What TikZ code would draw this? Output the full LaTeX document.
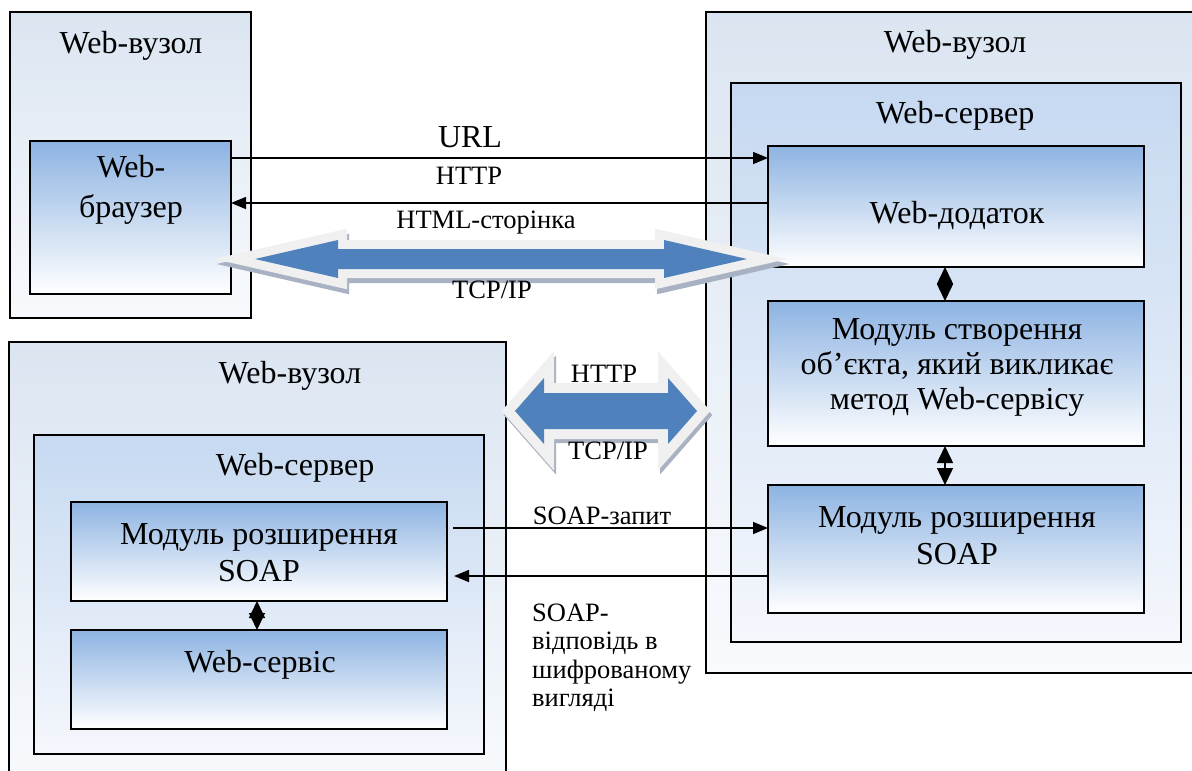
\documentclass[tikz,border=0pt]{standalone}
\usepackage{fontspec}
\setmainfont{Liberation Serif}
\usetikzlibrary{arrows.meta}

\definecolor{nodetop}{HTML}{DBE5F1}
\definecolor{nodebot}{HTML}{F8FAFD}
\definecolor{srvtop}{HTML}{C6D9F1}
\definecolor{srvbot}{HTML}{F4F7FC}
\definecolor{modtop}{HTML}{8DB3E2}
\definecolor{arrowblue}{HTML}{4F81BD}
\definecolor{arrowrim}{HTML}{F0F0F0}
\definecolor{arrowshadow}{HTML}{A9B2C2}

% block double arrow: left tip, right tip, axis y, shaft half height, head half height, head length
\newcommand\blockarrowpath[6]{%
  ({#1},{#3}) -- ({#1+#6},{#3-#5}) -- ({#1+#6},{#3-#4}) -- ({#2-#6},{#3-#4}) --
  ({#2-#6},{#3-#5}) -- ({#2},{#3}) -- ({#2-#6},{#3+#5}) -- ({#2-#6},{#3+#4}) --
  ({#1+#6},{#3+#4}) -- ({#1+#6},{#3+#5}) -- cycle}

\begin{document}
\begin{tikzpicture}[x=1pt,y=-1pt,
  box/.style={draw=black, line width=1.8pt, rectangle, inner sep=0pt, outer sep=0pt},
  hostbox/.style={box, top color=nodetop, bottom color=nodebot},
  serverbox/.style={box, top color=srvtop, bottom color=srvbot},
  modbox/.style={box, top color=modtop, bottom color=white},
  big/.style={font=\fontsize{32}{37}\selectfont, align=center, inner sep=0pt},
  small/.style={font=\fontsize{26.5}{28.5}\selectfont, inner sep=0pt},
  link/.style={line width=1.5pt, -{Triangle[length=15pt,width=12pt]}},
  bothway/.style={line width=1.5pt, {Triangle[length=17pt,width=16pt]}-{Triangle[length=17pt,width=16pt]}},
  rimshadow/.style={fill=arrowshadow, draw=arrowshadow, line width=#1},
  rim/.style={fill=arrowrim, draw=arrowrim, line width=#1},
]
\useasboundingbox (0,0) rectangle (1192,771);
\fill[white] (0,0) rectangle (1192,771);
\clip (0,0) rectangle (1192,771);

% ---- client host ----
\node[hostbox, minimum width=241, minimum height=306] (hostA) at (130.5,165) {};
\node[modbox, minimum width=201, minimum height=153] (browser) at (130.5,217.5) {};
\node[big] (hostAtitle) at (131,46) {Web-вузол};
\node[big, font=\fontsize{32}{40}\selectfont] (browsertext) at (131,190) {Web-\\браузер};

% ---- application host ----
\node[hostbox, minimum width=496, minimum height=661] (hostB) at (954,342.5) {};
\node[serverbox, minimum width=450, minimum height=559] (serverB) at (956,362.5) {};
\node[modbox, minimum width=376, minimum height=121] (app) at (956,206.5) {};
\node[modbox, minimum width=376, minimum height=145] (create) at (956,373.5) {};
\node[modbox, minimum width=376, minimum height=128] (soapB) at (956,549) {};
\node[big] (hostBtitle) at (955,45) {Web-вузол};
\node[big] (serverBtitle) at (955,116) {Web-сервер};
\node[big] (apptext) at (957,215) {Web-додаток};
\node[big, font=\fontsize{32}{35}\selectfont] (createtext) at (957,367)
  {Модуль створення\\об’єкта, який викликає\\метод Web-сервісу};
\node[big] (soapBtext) at (957,536) {Модуль розширення\\SOAP};

% ---- service host ----
\node[hostbox, minimum width=497, minimum height=448] (hostC) at (257.5,566) {};
\node[serverbox, minimum width=450, minimum height=319] (serverC) at (259,594.5) {};
\node[modbox, minimum width=376, minimum height=99] (soapC) at (259,551.5) {};
\node[modbox, minimum width=376, minimum height=99] (service) at (259,679.5) {};
\node[big] (hostCtitle) at (290,376) {Web-вузол};
\node[big] (serverCtitle) at (295,468) {Web-сервер};
\node[big] (soapCtext) at (259,553) {Модуль розширення\\SOAP};
\node[big] (servicetext) at (260,665) {Web-сервіс};

% ---- request / response links ----
\draw[link] (browser.east |- 0,158) -- (app.west |- 0,158);
\draw[link] (app.west |- 0,203) -- (browser.east |- 0,203);
\draw[bothway] (app.south -| 945,0) -- (create.north -| 945,0);
\draw[bothway] (create.south -| 945,0) -- (soapB.north -| 945,0);
\draw[bothway] (soapC.south -| 257,0) -- (service.north -| 257,0);
\draw[link, shorten <=6pt] (soapC.east |- 0,528) -- (soapB.west |- 0,528);
\draw[link, shorten >=7pt] (soapB.west |- 0,576) -- (soapC.east |- 0,576);

\node[big] (urllabel) at (470,137) {URL};
\node[small] (httplabel) at (469,176) {HTTP};
\node[small] (htmllabel) at (486,223) {HTML-сторінка};
\node[small] (soapreq) at (602,516) {SOAP-запит};
\node[small, align=left, anchor=west] (soapresp) at (532,658) {SOAP-\\відповідь в\\шифрованому\\вигляді};

% ---- transport block arrows ----
\draw[rimshadow=18, shift={(2,5)}] \blockarrowpath{255}{747}{259}{10}{19}{83};
\draw[rim=18] \blockarrowpath{255}{747}{259}{10}{19}{83};
\fill[arrowblue] \blockarrowpath{255}{747}{259}{10}{19}{83};
\node[small] (tcplabelA) at (492,290) {TCP/IP};

\draw[rimshadow=20, shift={(2,4)}] \blockarrowpath{515}{697}{411}{18}{33}{29};
\draw[rim=20] \blockarrowpath{515}{697}{411}{18}{33}{29};
\fill[arrowblue] \blockarrowpath{515}{697}{411}{18}{33}{29};
\node[small] (httplabelB) at (604,374) {HTTP};
\node[small] (tcplabelB) at (608,451) {TCP/IP};
\end{tikzpicture}
\end{document}
